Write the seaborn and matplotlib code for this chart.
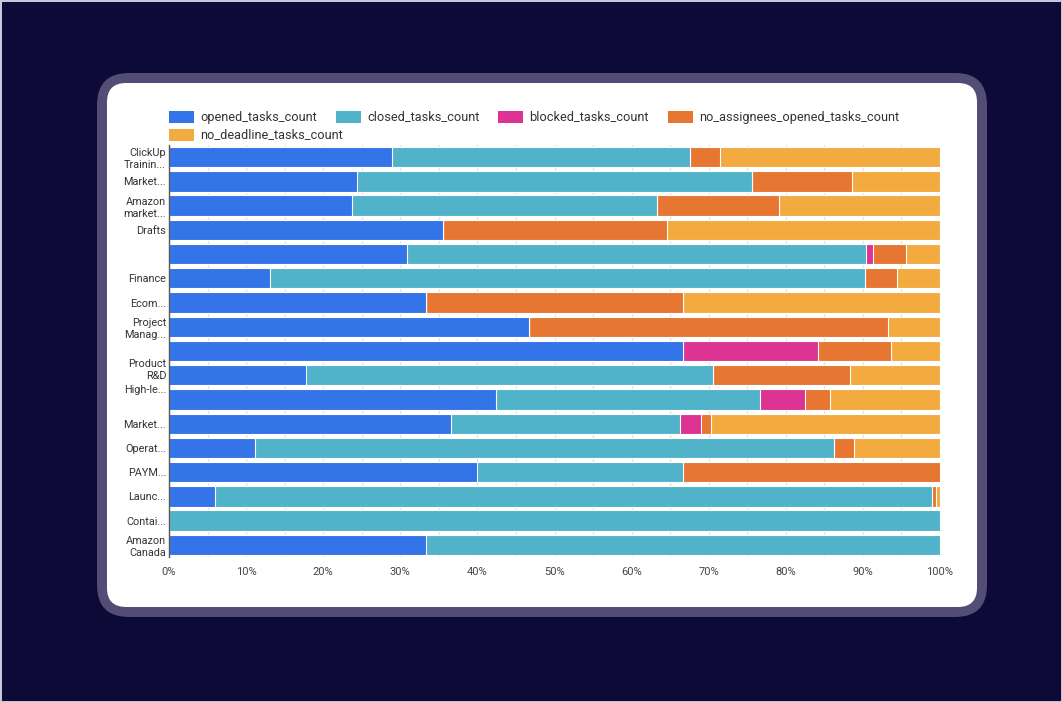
import pandas as pd
import matplotlib.pyplot as plt
import seaborn as sns
from matplotlib.patches import FancyBboxPatch, Rectangle
from matplotlib.ticker import MultipleLocator, PercentFormatter
from matplotlib.transforms import ScaledTranslation

# ----------------------------------------------------------
# Data (share of tasks per list, in %)
# ----------------------------------------------------------
row_labels = [
    "ClickUp\nTrainin...", "Market...", "Amazon\nmarket...", "Drafts", "",
    "Finance", "Ecom...", "Project\nManag...", "", "Product\nR&D",
    "High-le...", "Market...", "Operat...", "PAYM...", "Launc...",
    "Contai...", "Amazon\nCanada",
]
series = [
    "opened_tasks_count",
    "closed_tasks_count",
    "blocked_tasks_count",
    "no_assignees_opened_tasks_count",
    "no_deadline_tasks_count",
]
opened = [28.9, 24.4, 23.7, 35.5, 30.9, 13.1, 33.3, 46.7, 66.7, 17.8,
          42.4, 36.6, 11.2, 40.0, 6.0, 0.0, 33.3]
closed = [38.7, 51.2, 39.6, 0.0, 59.5, 77.2, 0.0, 0.0, 0.0, 52.8,
          34.3, 29.7, 75.1, 26.7, 93.0, 100.0, 66.7]
blocked = [0.0, 0.0, 0.0, 0.0, 0.9, 0.0, 0.0, 0.0, 17.5, 0.0,
           5.8, 2.7, 0.0, 0.0, 0.0, 0.0, 0.0]
no_assignees = [3.9, 13.0, 15.8, 29.1, 4.3, 4.1, 33.4, 46.6, 9.4, 17.7,
                3.2, 1.3, 2.5, 33.3, 0.5, 0.0, 0.0]
no_deadline = [28.5, 11.4, 20.9, 35.4, 4.4, 5.6, 33.3, 6.7, 6.4, 11.7,
               14.3, 29.7, 11.2, 0.0, 0.5, 0.0, 0.0]
colors = ["#3374E8", "#51B3C9", "#DD3393", "#E67632", "#F3AB3F"]

df = pd.DataFrame({
    "row": [f"r{i}" for i in range(len(row_labels))],
    series[0]: opened,
    series[1]: closed,
    series[2]: blocked,
    series[3]: no_assignees,
    series[4]: no_deadline,
})

# stacked bars: cumulative sums, drawn from the back to the front
cum = df[series].cumsum(axis=1)
# normalise each row to 100 %
cum = cum.div(cum[series[-1]], axis=0) * 100
cum["row"] = df["row"]

# ----------------------------------------------------------
# Figure
# ----------------------------------------------------------
sns.set_style("white")
plt.rcParams["font.family"] = ["Roboto", "DejaVu Sans"]

W, H = 1062, 702
fig = plt.figure(figsize=(W / 100, H / 100), dpi=100)
fig.patch.set_facecolor("#0E0A38")
fig.patch.set_edgecolor("#C9C7D6")
fig.patch.set_linewidth(1)


def px(x, y):
    return x / W, 1 - y / H


# card frame and white card
fx, fy = px(97, 617)
fig.add_artist(FancyBboxPatch((fx, fy), 890 / W, 544 / H,
                              boxstyle="round,pad=0,rounding_size=0.03",
                              mutation_aspect=W / H,
                              transform=fig.transFigure,
                              facecolor="#534D75", edgecolor="none", zorder=0))
cx, cy = px(107, 607)
fig.add_artist(FancyBboxPatch((cx, cy), 870 / W, 524 / H,
                              boxstyle="round,pad=0,rounding_size=0.018",
                              mutation_aspect=W / H,
                              transform=fig.transFigure,
                              facecolor="white", edgecolor="none", zorder=0))

ax_l, ax_b = px(169, 557)
ax = fig.add_axes([ax_l, ax_b, (940 - 169) / W, (557 - 145) / H])
ax.set_facecolor("none")

for name, color in reversed(list(zip(series, colors))):
    sns.barplot(data=cum, x=name, y="row", orient="h", color=color,
                width=0.84, edgecolor="white", linewidth=0.8,
                saturation=1, ax=ax, zorder=2)

ax.set_xlim(0, 100)
ax.xaxis.set_major_locator(MultipleLocator(10))
ax.xaxis.set_minor_locator(MultipleLocator(5))
ax.xaxis.set_major_formatter(PercentFormatter(decimals=0))
ax.grid(axis="x", which="both", color="#E3E3E3", linewidth=1, zorder=0)
ax.set_axisbelow(True)
ax.set_xlabel("")
ax.set_ylabel("")
ax.set_yticks(range(len(row_labels)))
ax.set_yticklabels(row_labels, fontsize=7.8, color="#333333", linespacing=1.25)
ax.tick_params(axis="x", labelsize=8, colors="#444444", length=0, pad=7)
ax.tick_params(axis="y", length=0, pad=2)
for side in ["top", "right", "bottom"]:
    ax.spines[side].set_visible(False)
ax.spines["left"].set_color("#555555")
ax.spines["left"].set_linewidth(1)

# the dashboard draws these two wrapped labels a little higher
ticklabels = ax.get_yticklabels()
for idx, dy_px in [(9, 7), (10, 10)]:
    lab = ticklabels[idx]
    lab.set_transform(lab.get_transform()
                      + ScaledTranslation(0, dy_px / 100, fig.dpi_scale_trans))

# legend, laid out as a flowing row like the original dashboard
legend_pos = [(169, 117), (336, 117), (498, 117), (668, 117), (169, 135)]
for (lx, ly), name, color in zip(legend_pos, series, colors):
    rx, ry = px(lx, ly + 6)
    fig.add_artist(Rectangle((rx, ry), 25 / W, 12 / H,
                             transform=fig.transFigure, facecolor=color,
                             edgecolor="none"))
    tx, ty = px(lx + 31, ly)
    fig.text(tx, ty, name, fontsize=9.2, color="#333333",
             ha="left", va="center")

plt.savefig("out.png", dpi=100, facecolor=fig.get_facecolor())
